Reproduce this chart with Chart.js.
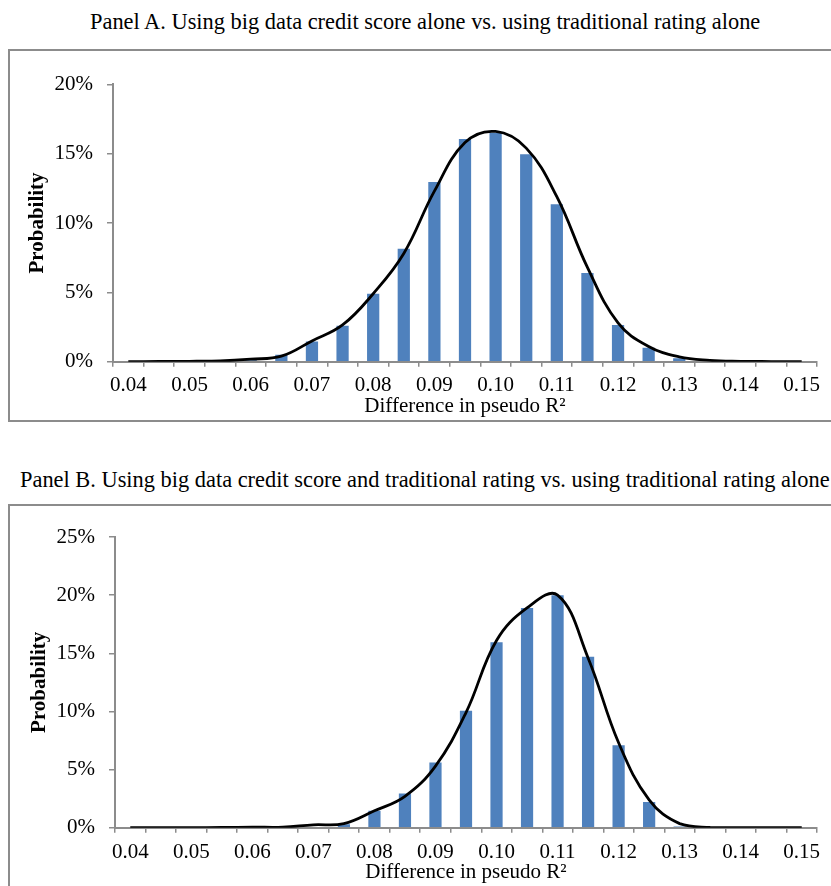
<!DOCTYPE html>
<html>
<head>
<meta charset="utf-8">
<script src="https://cdn.jsdelivr.net/npm/chart.js@4.4.1/dist/chart.umd.min.js"></script>
<style>
	html, body {margin: 0; padding: 0; background: #fff;}
	body {width: 831px; height: 886px; position: relative; overflow: hidden; font-family: "Liberation Serif", "Times New Roman", serif;}
	.panel-title {position: absolute; font-size: 22.4px; white-space: nowrap; color: #000; line-height: 26px;}
	.panel-box {position: absolute; left: 8px; width: 900px; border: 2px solid #8c8c8c; box-sizing: border-box;}
	.chart-wrap {position: absolute; left: 10px; width: 821px;}
</style>
</head>
<body>
	<div class="panel-title" id="title-a" style="top: 9px; left: 90px;">Panel A. Using big data credit score alone vs. using traditional rating alone</div>
	<div class="panel-box" style="top: 49px; height: 373px;"></div>
	<div class="chart-wrap" style="top: 51px; height: 369px;"><canvas id="panel-a"></canvas></div>

	<div class="panel-title" id="title-b" style="top: 467px; left: 20px;">Panel B. Using big data credit score and traditional rating vs. using traditional rating alone</div>
	<div class="panel-box" style="top: 504px; height: 420px;"></div>
	<div class="chart-wrap" style="top: 506px; height: 380px;"><canvas id="panel-b"></canvas></div>

<script>
	/** 데이터 (x: pseudo R2 차이, y: 확률 %) **/
	const categories = ['0.040', '0.045', '0.050', '0.055', '0.060', '0.065', '0.070', '0.075', '0.080', '0.085', '0.090', '0.095',
		'0.100', '0.105', '0.110', '0.115', '0.120', '0.125', '0.130', '0.135', '0.140', '0.145', '0.150'];
	const xTickLabels = ['0.04', '', '0.05', '', '0.06', '', '0.07', '', '0.08', '', '0.09', '',
		'0.10', '', '0.11', '', '0.12', '', '0.13', '', '0.14', '', '0.15'];

	/** Panel A **/
	const barsA = [0, 0, 0, 0, 0.1, 0.5, 1.45, 2.6, 4.9, 8.15, 12.95, 16.05, 16.5, 14.95, 11.35, 6.4, 2.65, 1.0, 0.25, 0.05, 0, 0, 0];
	const lineA = [0, 0.02, 0.03, 0.05, 0.18, 0.4, 1.5, 2.65, 4.9, 7.8, 12.3, 15.8, 16.6, 15.4, 11.9, 6.8, 2.8, 1.1, 0.35, 0.1, 0.03, 0.01, 0];
	const yTicksA = [0, 5, 10, 15, 20];

	/** Panel B **/
	const barsB = [0, 0, 0, 0, 0, 0, 0, 0.3, 1.45, 2.95, 5.6, 10.05, 15.95, 18.9, 20.0, 14.7, 7.1, 2.2, 0.1, 0, 0, 0, 0];
	const lineB = [0, 0, 0, 0.02, 0.05, 0.05, 0.25, 0.35, 1.45, 2.7, 5.3, 9.9, 16.1, 18.9, 20.0, 14.6, 7.3, 2.4, 0.35, 0.02, 0, 0, 0];
	const yTicksB = [0, 5, 10, 15, 20, 25];

	/** 공통 부분 **/
	let barColor = '#4f81bd';
	let axisColor = '#8c8c8c';
	let serif = '"Liberation Serif", "Times New Roman", serif';
	Chart.defaults.font.family = serif;
	Chart.defaults.color = '#000';

	function makePanel(canvasId, bars, line, yTicks, yWidth, topPad, yTitlePad, xLabelPad) {
		return new Chart(document.getElementById(canvasId), {
			data: {
				labels: categories,
				datasets: [{
					type: 'line',
					label: 'density',
					data: line,
					borderColor: '#000',
					borderWidth: 2.8,
					pointRadius: 0,
					tension: 0.4,
					fill: false,
					order: 0
				}, {
					type: 'bar',
					label: 'probability',
					data: bars,
					backgroundColor: barColor,
					barPercentage: 1,
					categoryPercentage: 0.4,
					order: 1
				}]
			},
			options: {
				responsive: true,
				maintainAspectRatio: false,
				animation: false,
				layout: {padding: {left: 0, top: topPad, right: 14, bottom: 0}},
				plugins: {legend: {display: false}, tooltip: {enabled: false}, title: {display: false}},
				scales: {
					x: {
						type: 'category',
						offset: true,
						grid: {display: true, drawOnChartArea: false, offset: true, drawTicks: true, tickLength: 5, color: axisColor, lineWidth: 1.5},
						border: {display: true, color: axisColor, width: 2},
						ticks: {
							autoSkip: false, maxRotation: 0, padding: xLabelPad,
							font: {size: 21},
							callback: function(value, index) { return xTickLabels[index]; }
						},
						title: {display: true, text: 'Difference in pseudo R²', font: {size: 21}, padding: {top: 0.5, bottom: 0.5}},
						afterFit: function(scale) { scale.height = 58.3; }
					},
					y: {
						min: yTicks[0],
						max: yTicks[yTicks.length - 1],
						afterBuildTicks: function(scale) { scale.ticks = yTicks.map(v => ({value: v})); },
						grid: {display: true, drawOnChartArea: false, drawTicks: true, tickLength: 6, color: axisColor, lineWidth: 1.5},
						border: {display: true, color: axisColor, width: 2},
						ticks: {
							padding: 14,
							font: {size: 21},
							callback: function(value) { return value + '%'; }
						},
						title: {display: true, text: 'Probability', font: {size: 21, weight: 'bold'}, padding: {top: yTitlePad, bottom: 0}},
						afterFit: function(scale) { scale.width = yWidth; }
					}
				}
			}
		});
	}

	let chartA = makePanel('panel-a', barsA, lineA, yTicksA, 103, 33.3, 15.4, 6);
	let chartB = makePanel('panel-b', barsB, lineB, yTicksB, 105, 31, 17.4, 7);
</script>
</body>
</html>
